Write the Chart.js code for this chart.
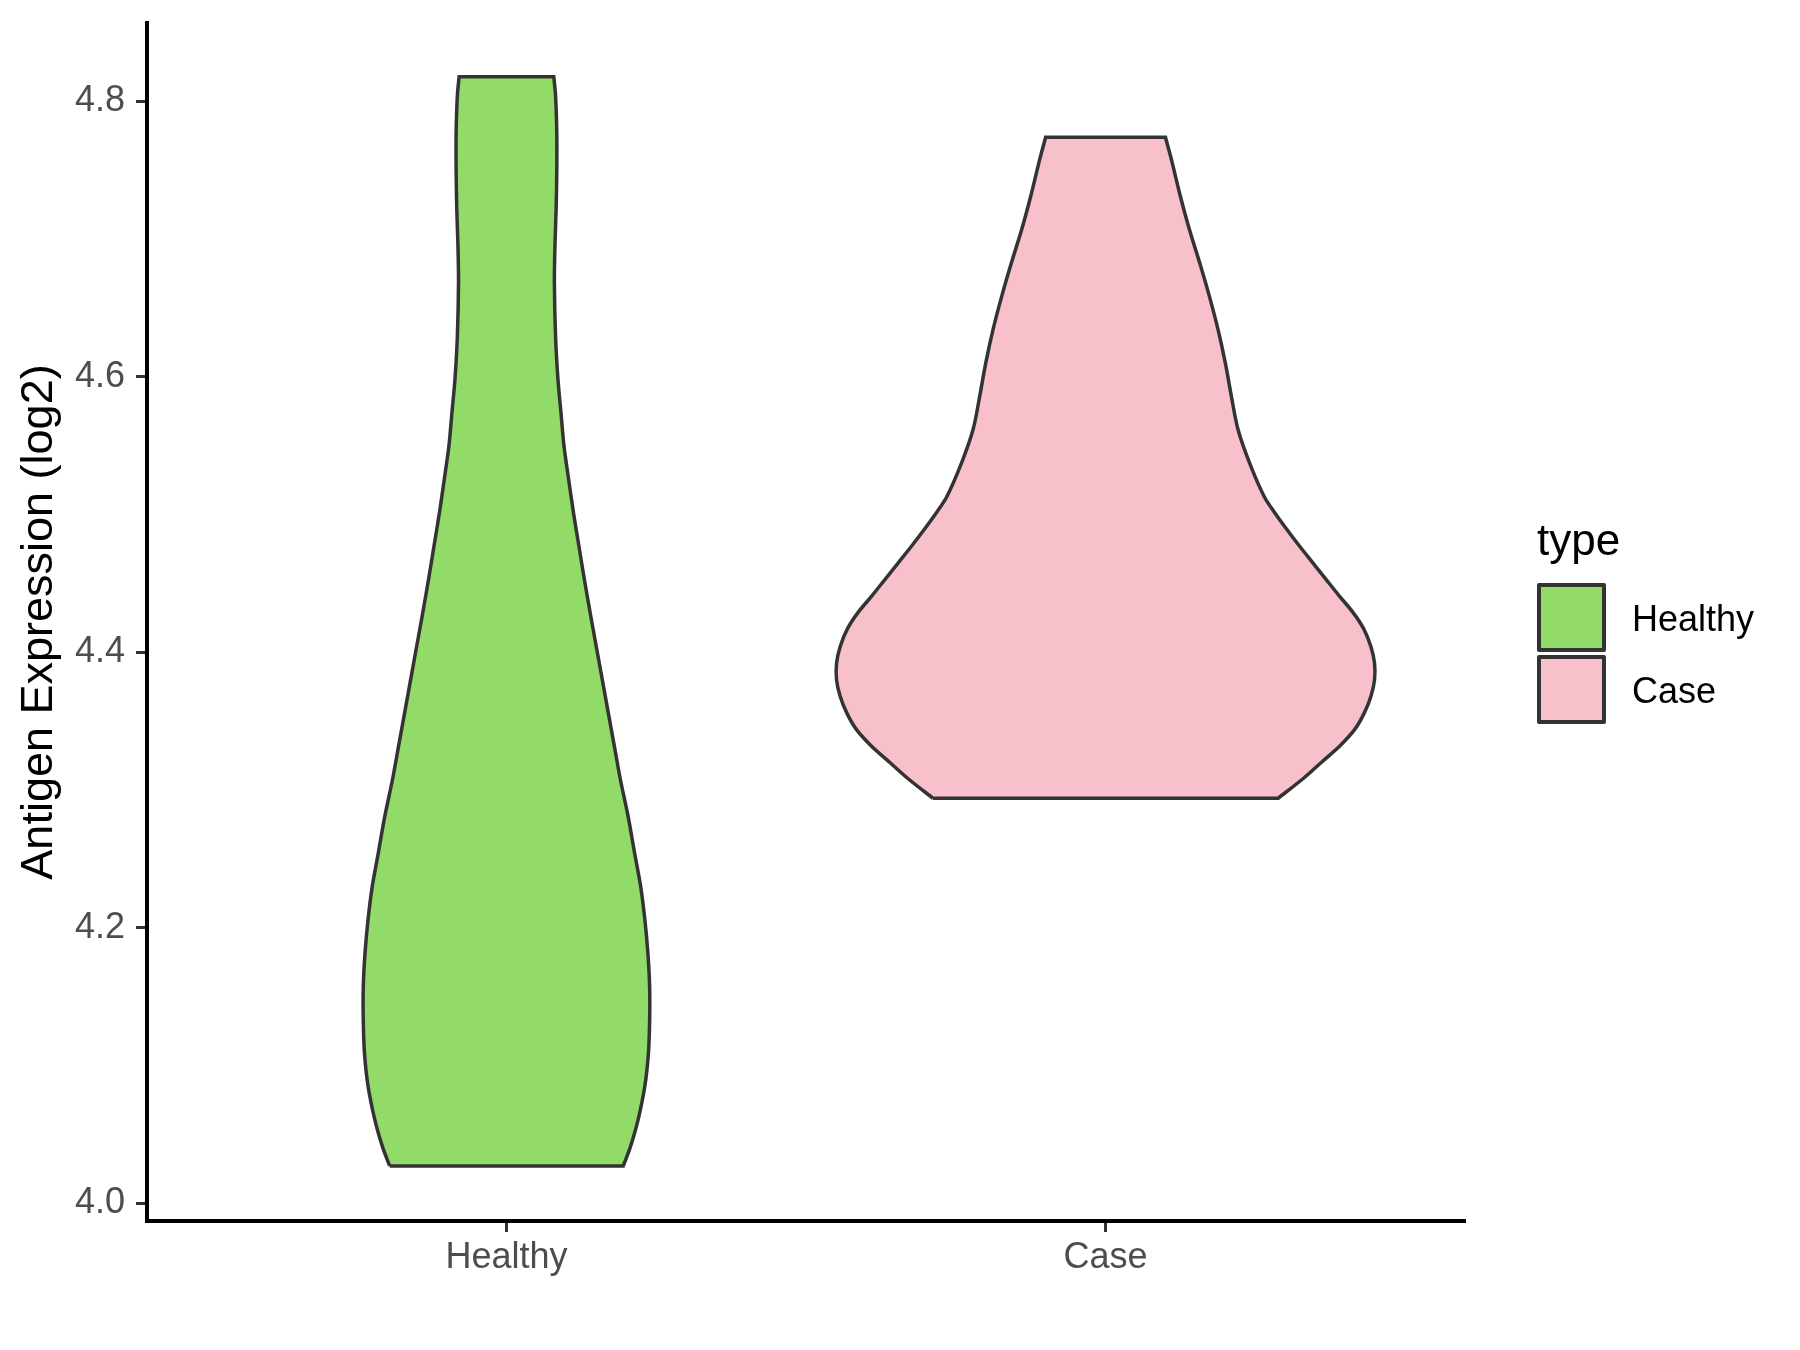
<!DOCTYPE html>
<html lang="en">
<head>
    <meta charset="UTF-8">
    <title>Antigen Expression (log2) - Healthy vs Case</title>
    <script src="https://cdn.jsdelivr.net/npm/chart.js"></script>
    <style>
        body { margin: 0; background: #fff; }
        #wrap { position: relative; width: 1800px; height: 1350px; }
        #wrap canvas { position: absolute; left: 0; top: 0; }
        .leg { position: absolute; font-family: "Liberation Sans", Arial, sans-serif; color: #000; line-height: 1; white-space: nowrap; }
        .legTitle { left: 1537px; top: 518px; font-size: 44px; }
        .legBox { position: absolute; left: 1537px; width: 69px; height: 69px; box-sizing: border-box; border: 4px solid #333333; border-radius: 2px; }
        .legLabel { left: 1632px; font-size: 36px; }
    </style>
</head>
<body>
    <div id="wrap">
        <canvas id="violinChart" width="1800" height="1350"></canvas>
        <!-- legend -->
        <div class="leg legTitle">type</div>
        <div class="legBox" style="top:583px; background:#93DB69;"></div>
        <div class="legBox" style="top:655px; background:#F7C0CB;"></div>
        <div class="leg legLabel" style="top:601px;">Healthy</div>
        <div class="leg legLabel" style="top:673px;">Case</div>
    </div>

    <script>
        // categories on the x axis
        var categories = ['Healthy', 'Case'];

        // violin outlines: expression value and half width (in category units)
        var healthyValues = [4.027, 4.041, 4.061, 4.085, 4.109, 4.133, 4.157, 4.182, 4.206, 4.230, 4.254,
            4.281, 4.308, 4.332, 4.356, 4.380, 4.404, 4.428, 4.453, 4.477, 4.501, 4.525, 4.550, 4.574,
            4.598, 4.629, 4.669, 4.696, 4.723, 4.750, 4.777, 4.804, 4.818];
        var healthyHalfWidth = [0.195, 0.207, 0.220, 0.231, 0.237, 0.239, 0.239, 0.236, 0.231, 0.224, 0.214,
            0.203, 0.190, 0.180, 0.170, 0.160, 0.150, 0.140, 0.130, 0.121, 0.112, 0.104, 0.096, 0.091,
            0.086, 0.082, 0.080, 0.081, 0.083, 0.084, 0.084, 0.082, 0.079];

        var caseValues = [4.294, 4.308, 4.320, 4.332, 4.344, 4.356, 4.368, 4.380, 4.392, 4.404, 4.417,
            4.429, 4.441, 4.453, 4.465, 4.477, 4.489, 4.501, 4.513, 4.538, 4.562, 4.586, 4.610, 4.634,
            4.659, 4.683, 4.707, 4.731, 4.756, 4.774];
        var caseHalfWidth = [0.288, 0.329, 0.360, 0.391, 0.416, 0.432, 0.443, 0.449, 0.449, 0.443, 0.431,
            0.413, 0.390, 0.368, 0.346, 0.324, 0.303, 0.283, 0.265, 0.240, 0.221, 0.210, 0.200, 0.188,
            0.173, 0.157, 0.140, 0.125, 0.111, 0.100];

        var yTicks = [4.0, 4.2, 4.4, 4.6, 4.8];

        var fontFamily = '"Liberation Sans", Arial, sans-serif';

        // left side bottom->top, then right side top->bottom, closed.
        // corner points are repeated so the curved sides keep sharp corners with the flat ends
        function outline(center, values, half) {
            var pts = [];
            var n = values.length;
            for (var i = 0; i < n; i++) {
                pts.push({ x: center - half[i], y: values[i] });
            }
            pts.push({ x: center - half[n - 1], y: values[n - 1] });
            for (var j = n - 1; j >= 0; j--) {
                pts.push({ x: center + half[j], y: values[j] });
                if (j === n - 1) pts.push({ x: center + half[j], y: values[j] });
            }
            pts.push({ x: center + half[0], y: values[0] });
            pts.push(pts[0]);
            return pts;
        }

        var ctx = document.getElementById('violinChart').getContext('2d');
        var chart = new Chart(ctx, {
            type: 'line',
            data: {
                datasets: [{
                    label: categories[0],
                    data: outline(1, healthyValues, healthyHalfWidth),
                    borderColor: '#333333',
                    borderWidth: 3.5,
                    backgroundColor: '#93DB69',
                    fill: 'shape',
                    pointRadius: 0,
                    tension: 0.3
                }, {
                    label: categories[1],
                    data: outline(2, caseValues, caseHalfWidth),
                    borderColor: '#333333',
                    borderWidth: 3.5,
                    backgroundColor: '#F7C0CB',
                    fill: 'shape',
                    pointRadius: 0,
                    tension: 0.3
                }]
            },
            options: {
                responsive: false,
                animation: false,
                events: [],
                layout: { padding: { top: 23, right: 335, bottom: 0, left: 0 } },
                plugins: {
                    legend: { display: false },
                    tooltip: { enabled: false }
                },
                scales: {
                    x: {
                        type: 'linear',
                        min: 0.4,
                        max: 2.6,
                        afterBuildTicks: function (scale) {
                            scale.ticks = categories.map(function (c, i) { return { value: i + 1 }; });
                        },
                        ticks: {
                            callback: function (value, index) { return categories[index]; },
                            color: '#4D4D4D',
                            font: { family: fontFamily, size: 36 },
                            padding: 4.5,
                            maxRotation: 0,
                            autoSkip: false
                        },
                        grid: { drawOnChartArea: false, tickLength: 11, tickColor: '#333333', tickWidth: 3 },
                        border: { color: '#000000', width: 4 },
                        afterFit: function (scale) {
                            scale.height = 129;
                            scale.paddingLeft = 0;
                            scale.paddingRight = 0;
                        }
                    },
                    y: {
                        type: 'linear',
                        min: 3.987,
                        max: 4.857,
                        afterBuildTicks: function (scale) {
                            scale.ticks = yTicks.map(function (v) { return { value: v }; });
                        },
                        ticks: {
                            callback: function (value) { return value.toFixed(1); },
                            color: '#4D4D4D',
                            font: { family: fontFamily, size: 36 },
                            padding: 11
                        },
                        grid: { drawOnChartArea: false, tickLength: 11, tickColor: '#333333', tickWidth: 3 },
                        border: { color: '#000000', width: 4 },
                        title: {
                            display: true,
                            text: 'Antigen Expression (log2)',
                            color: '#000000',
                            font: { family: fontFamily, size: 45 },
                            padding: { top: 13, bottom: 0 }
                        },
                        afterFit: function (scale) {
                            scale.width = 147;
                            scale.paddingTop = 0;
                            scale.paddingBottom = 0;
                        }
                    }
                }
            }
        });
    </script>
</body>
</html>
